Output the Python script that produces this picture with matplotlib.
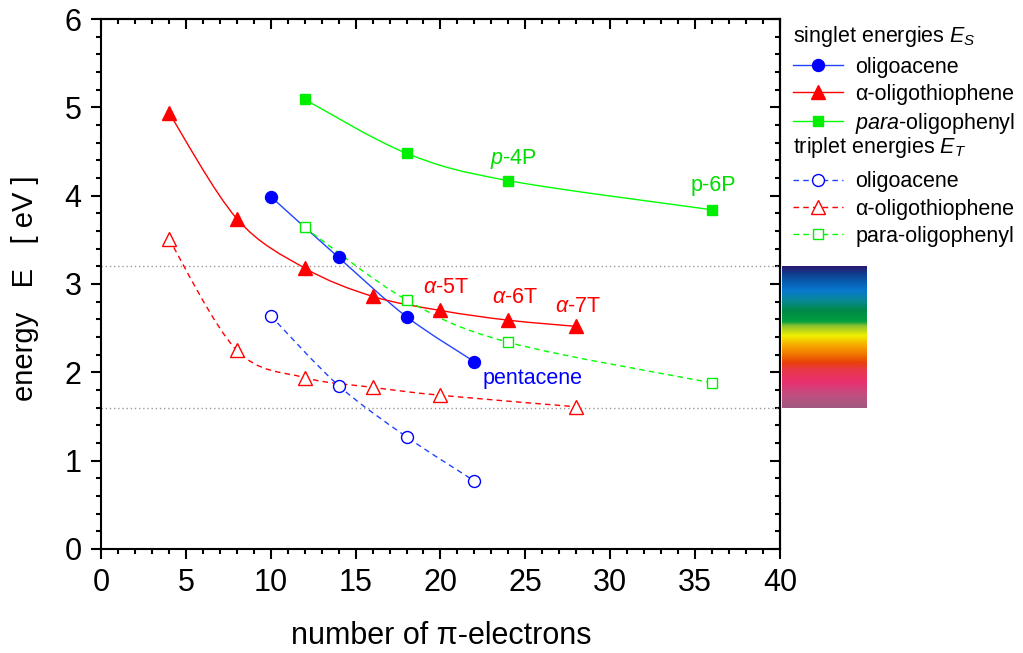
"""Singlet / triplet energies of oligoacenes, oligothiophenes and oligophenyls
versus number of pi-electrons, with the visible range marked at the right.
"""

import matplotlib
matplotlib.use("Agg")
import matplotlib.pyplot as plt
import numpy as np
from matplotlib.path import Path
from matplotlib.patches import PathPatch
from matplotlib.lines import Line2D
from matplotlib.colors import LinearSegmentedColormap
from matplotlib.ticker import MultipleLocator

plt.rcParams["font.family"] = ["Liberation Sans", "DejaVu Sans"]
plt.rcParams["mathtext.fontset"] = "custom"
plt.rcParams["mathtext.rm"] = "Liberation Sans"
plt.rcParams["mathtext.it"] = "Liberation Sans:italic"

# --- data ---
acene_n = [10, 14, 18, 22]
acene_s = [3.99, 3.30, 2.63, 2.12]
acene_t = [2.64, 1.85, 1.27, 0.77]

thio_n_s = [4, 8, 12, 16, 20, 24, 28]
thio_s = [4.94, 3.74, 3.18, 2.86, 2.70, 2.59, 2.52]
thio_n_t = [4, 8, 12, 16, 20, 28]
thio_t = [3.51, 2.25, 1.94, 1.83, 1.74, 1.61]

phenyl_n = [12, 18, 24, 36]
phenyl_s = [5.09, 4.48, 4.17, 3.84]
phenyl_t = [3.64, 2.82, 2.34, 1.88]

visible_ev = [1.6, 3.2]  # lower / upper edge of the visible range

# colour stops of the spectrum bar, top (3.2 eV) to bottom (1.6 eV)
spectrum_colors = [
    (0.00, "#2b1870"), (0.05, "#103c8c"), (0.10, "#0858a8"),
    (0.17, "#0878d0"), (0.24, "#088898"), (0.31, "#008848"),
    (0.39, "#00a040"), (0.42, "#88c030"), (0.49, "#f0f000"),
    (0.56, "#f8a800"), (0.63, "#f07000"), (0.68, "#e84008"),
    (0.73, "#e83848"), (0.82, "#e83070"), (0.91, "#c05080"),
    (1.00, "#a05880"),
]

BLUE = "#0000ff"
RED = "#ff0000"
GREEN = "#00ee00"
DASH = (0, (4, 3))
LBL = 15.5  # annotation / legend font size


def spline_path(x, y):
    """Catmull-Rom curve through the points as a Bezier path (data coords)."""
    p = np.column_stack([x, y]).astype(float)
    ext = np.vstack([p[0], p, p[-1]])
    verts = [p[0]]
    codes = [Path.MOVETO]
    for i in range(len(p) - 1):
        p0, p1, p2, p3 = ext[i], ext[i + 1], ext[i + 2], ext[i + 3]
        verts += [p1 + (p2 - p0) / 6, p2 - (p3 - p1) / 6, p2]
        codes += [Path.CURVE4] * 3
    return Path(verts, codes)


def series(ax, x, y, color, ls, marker, ms, filled, lcolor=None):
    ax.add_patch(PathPatch(spline_path(x, y), fill=False, lw=1.0,
                           ls=ls, ec=lcolor or color, zorder=2))
    ax.plot(x, y, ls="none", marker=marker, ms=ms,
            mfc=color if filled else "white", mec=color,
            mew=1.0, zorder=3)


fig = plt.figure(figsize=(10.23, 6.53), dpi=100)
ax = fig.add_axes([0.0987, 0.1593, 0.6637, 0.8116])

series(ax, acene_n, acene_s, BLUE, "-", "o", 8.6, True, lcolor="#2244ff")
series(ax, thio_n_s, thio_s, RED, "-", "^", 10.5, True)
series(ax, phenyl_n, phenyl_s, GREEN, "-", "s", 7.8, True, lcolor="#00ff00")
series(ax, acene_n, acene_t, BLUE, DASH, "o", 8.6, False, lcolor="#2244ff")
series(ax, thio_n_t, thio_t, RED, DASH, "^", 10.0, False)
series(ax, phenyl_n, phenyl_t, GREEN, DASH, "s", 7.5, False, lcolor="#00ff00")

for e in visible_ev:
    ax.axhline(e, color="#999999", ls=(0, (1, 2)), lw=1.0, zorder=1)

# spectrum bar next to the axes, spanning the visible range
spec = ax.inset_axes([1.003, visible_ev[0], 0.124, visible_ev[1] - visible_ev[0]],
                     transform=ax.get_yaxis_transform())
cmap = LinearSegmentedColormap.from_list("vis", spectrum_colors)
spec.imshow(np.linspace(0, 1, 256)[:, None], cmap=cmap, aspect="auto")
spec.axis("off")

# annotations
ax.text(22.5, 1.93, "pentacene", color=BLUE, fontsize=LBL, ha="left", va="center")
ax.text(20.3, 2.96, r"$\alpha$-5T", color=RED, fontsize=LBL, ha="center", va="center")
ax.text(24.4, 2.85, r"$\alpha$-6T", color=RED, fontsize=LBL, ha="center", va="center")
ax.text(28.1, 2.75, r"$\alpha$-7T", color=RED, fontsize=LBL, ha="center", va="center")
ax.text(24.3, 4.42, r"$p$-4P", color="#00dd00", fontsize=LBL, ha="center", va="center")
ax.text(36.1, 4.12, "p-6P", color="#00dd00", fontsize=LBL, ha="center", va="center")

# axes
ax.set_xlim(0, 40)
ax.set_ylim(0, 6)
ax.xaxis.set_major_locator(MultipleLocator(5))
ax.xaxis.set_minor_locator(MultipleLocator(1))
ax.yaxis.set_major_locator(MultipleLocator(1))
ax.yaxis.set_minor_locator(MultipleLocator(0.2))
ax.tick_params(which="major", direction="out", length=7, width=1.5,
               labelsize=22, pad=7)
ax.tick_params(which="minor", direction="out", length=3.6, width=1.5)
for sp in ax.spines.values():
    sp.set_linewidth(1.5)

top = ax.secondary_xaxis("top")
top.xaxis.set_major_locator(MultipleLocator(5))
top.xaxis.set_minor_locator(MultipleLocator(1))
top.tick_params(which="major", direction="in", length=7, width=1.5, labeltop=False)
top.tick_params(which="minor", direction="in", length=3.6, width=1.5)
right = ax.secondary_yaxis("right")
right.yaxis.set_major_locator(MultipleLocator(1))
right.yaxis.set_minor_locator(MultipleLocator(0.2))
right.tick_params(which="major", direction="in", length=7, width=1.5, labelright=False)
right.tick_params(which="minor", direction="in", length=3.6, width=1.5)
for sec in (top, right):
    for sp in sec.spines.values():
        sp.set_linewidth(1.5)

fig.text(441 / 1023, 1 - 636 / 653, "number of π-electrons", fontsize=22,
         ha="center", va="center")
fig.text(25 / 1023, 1 - 288 / 653, "energy   E   [ eV ]", fontsize=21,
         rotation=90, ha="center", va="center")

# legends: headers as plain text, entries as two frameless legends
fig.text(793 / 1023, 1 - 42 / 653, r"singlet energies $E_S$", fontsize=LBL,
         ha="left", va="baseline")
fig.text(793 / 1023, 1 - 153 / 653, r"triplet energies $E_T$", fontsize=LBL,
         ha="left", va="baseline")

leg_kw = dict(loc="upper left", bbox_transform=fig.transFigure, frameon=False,
              fontsize=LBL, handlelength=2.3, handletextpad=0.6,
              labelspacing=0.28, borderpad=0, borderaxespad=0)
singlet_handles = [
    Line2D([], [], color="#2244ff", lw=1, marker="o", ms=8.6, mfc=BLUE, mec=BLUE),
    Line2D([], [], color=RED, lw=1, marker="^", ms=10.5, mfc=RED, mec=RED),
    Line2D([], [], color="#00ff00", lw=1, marker="s", ms=7.8, mfc=GREEN, mec=GREEN),
]
triplet_handles = [
    Line2D([], [], color="#2244ff", lw=1, ls=DASH, marker="o", ms=8.6,
           mfc="white", mec=BLUE),
    Line2D([], [], color=RED, lw=1, ls=DASH, marker="^", ms=10.0,
           mfc="white", mec=RED),
    Line2D([], [], color="#00ff00", lw=1, ls=DASH, marker="s", ms=7.5,
           mfc="white", mec=GREEN),
]
leg1 = fig.legend(singlet_handles,
                  ["oligoacene", "α-oligothiophene", r"$para$-oligophenyl"],
                  bbox_to_anchor=(793 / 1023, 1 - 56.5 / 653), **leg_kw)
leg2 = fig.legend(triplet_handles,
                  ["oligoacene", "α-oligothiophene", "para-oligophenyl"],
                  bbox_to_anchor=(793 / 1023, 1 - 171.5 / 653), **leg_kw)

fig.savefig("out.png", dpi=100)
